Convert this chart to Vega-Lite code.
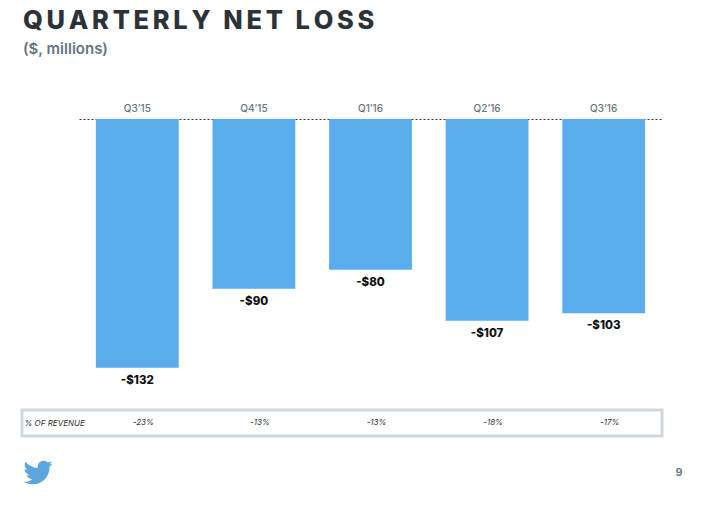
{
  "$schema": "https://vega.github.io/schema/vega-lite/v6.json",
  "padding": {"left": 20, "top": 9, "right": 0, "bottom": 0},
  "background": "white",
  "spacing": 20,
  "bounds": "flush",
  "config": {"font": "Inter", "concat": {"spacing": 20}},
  "datasets": {
    "quarters": [
      {"quarter": "Q3’15", "loss": -132, "label": "-$132", "pct": "-23%", "row": "% OF REVENUE"},
      {"quarter": "Q4’15", "loss": -90, "label": "-$90", "pct": "-13%", "row": "% OF REVENUE"},
      {"quarter": "Q1’16", "loss": -80, "label": "-$80", "pct": "-13%", "row": "% OF REVENUE"},
      {"quarter": "Q2’16", "loss": -107, "label": "-$107", "pct": "-18%", "row": "% OF REVENUE"},
      {"quarter": "Q3’16", "loss": -103, "label": "-$103", "pct": "-17%", "row": "% OF REVENUE"}
    ]
  },
  "vconcat": [
    {
      "width": 640,
      "height": 270.5,
      "view": {"stroke": null},
      "title": {
        "text": "Q\u2009U\u2009A\u2009R\u2009T\u2009E\u2009R\u2009L\u2009Y\u2002N\u2009E\u2009T\u2002L\u2009O\u2009S\u2009S",
        "subtitle": "($, millions)",
        "anchor": "start",
        "frame": "group",
        "font": "Inter",
        "fontSize": 25.4,
        "fontWeight": 800,
        "color": "#2b3238",
        "subtitleFont": "Inter",
        "subtitleFontSize": 15,
        "subtitleFontWeight": 600,
        "subtitleColor": "#66757f",
        "subtitlePadding": 7,
        "offset": 46.5,
        "dx": 1
      },
      "data": {"name": "quarters"},
      "encoding": {
        "x": {
          "field": "quarter",
          "type": "nominal",
          "sort": null,
          "title": null,
          "scale": {"range": [57, 640], "paddingInner": 0.29, "paddingOuter": 0.145},
          "axis": {
            "orient": "top",
            "labelAngle": 0,
            "labelFontSize": 10,
            "labelFontWeight": 500,
            "labelColor": "#66757f",
            "labelPadding": 6,
            "ticks": false,
            "tickSize": 0,
            "domain": true,
            "domainColor": "#333333",
            "domainDash": [2, 2],
            "domainWidth": 1,
            "grid": false
          }
        }
      },
      "layer": [
        {
          "mark": {"type": "bar", "color": "#5aadec"},
          "encoding": {
            "y": {
              "field": "loss",
              "type": "quantitative",
              "scale": {"domain": [-143.5, 0], "nice": false},
              "axis": null
            }
          }
        },
        {
          "mark": {"type": "text", "fontSize": 11.5, "fontWeight": 800, "color": "#111111", "baseline": "middle", "dy": 13},
          "encoding": {
            "y": {"field": "loss", "type": "quantitative", "scale": {"domain": [-143.5, 0], "nice": false}, "axis": null},
            "text": {"field": "label"}
          }
        }
      ]
    },
    {
      "width": 640,
      "height": 26,
      "view": {"stroke": "#cfd9e2", "strokeWidth": 3, "fill": "white"},
      "data": {"name": "quarters"},
      "mark": {"type": "text", "fontSize": 8, "fontStyle": "italic", "color": "#333333", "dx": 6},
      "encoding": {
        "x": {
          "field": "quarter",
          "type": "nominal",
          "sort": null,
          "title": null,
          "scale": {"range": [57, 640], "paddingInner": 0.29, "paddingOuter": 0.145},
          "axis": null
        },
        "y": {
          "field": "row",
          "type": "nominal",
          "title": null,
          "axis": {
            "labelAlign": "left",
            "labelPadding": -2,
            "ticks": false,
            "tickSize": 0,
            "domain": false,
            "grid": false,
            "labelFontSize": 8,
            "labelFontStyle": "italic",
            "labelColor": "#333333"
          }
        },
        "text": {"field": "pct"}
      }
    },
    {
      "width": 670,
      "height": 33,
      "view": {"stroke": null},
      "data": {"values": [{"item": "logo"}, {"item": "page", "page": "9"}]},
      "encoding": {
        "x": {"field": "item", "type": "nominal", "sort": null, "title": null, "scale": {"type": "point", "padding": 0, "range": [16, 657]}, "axis": null}
      },
      "layer": [
        {
          "transform": [{"filter": "datum.item === 'logo'"}],
          "mark": {
            "type": "point",
            "filled": true,
            "color": "#5ba7dd",
            "opacity": 1,
            "size": 5.84,
            "shape": "M11.953 -7.43a10 10 0 0 1 -2.825 .775 4.958 4.958 0 0 0 2.163 -2.723c-.951 .555 -2.005 .959 -3.127 1.184a4.92 4.92 0 0 0 -8.384 4.482C-4.31 -3.905 -7.933 -5.87 -10.36 -8.838a4.822 4.822 0 0 0 -.666 2.475c0 1.71 .87 3.213 2.188 4.096a4.904 4.904 0 0 1 -2.228 -.616v.06a4.923 4.923 0 0 0 3.946 4.827 4.996 4.996 0 0 1 -2.212 .085 4.936 4.936 0 0 0 4.604 3.417 9.867 9.867 0 0 1 -6.102 2.105c-.39 0 -.779 -.023 -1.17 -.067a13.995 13.995 0 0 0 7.557 2.209c9.053 0 13.998 -7.496 13.998 -13.985 0 -.21 0 -.42 -.015 -.63A9.935 9.935 0 0 0 12 -7.41z"
          }
        },
        {
          "transform": [{"filter": "datum.item === 'page'"}],
          "mark": {"type": "text", "fontSize": 11, "fontWeight": 600, "color": "#66757f", "align": "center", "baseline": "middle"},
          "encoding": {"text": {"field": "page"}}
        }
      ]
    }
  ]
}
